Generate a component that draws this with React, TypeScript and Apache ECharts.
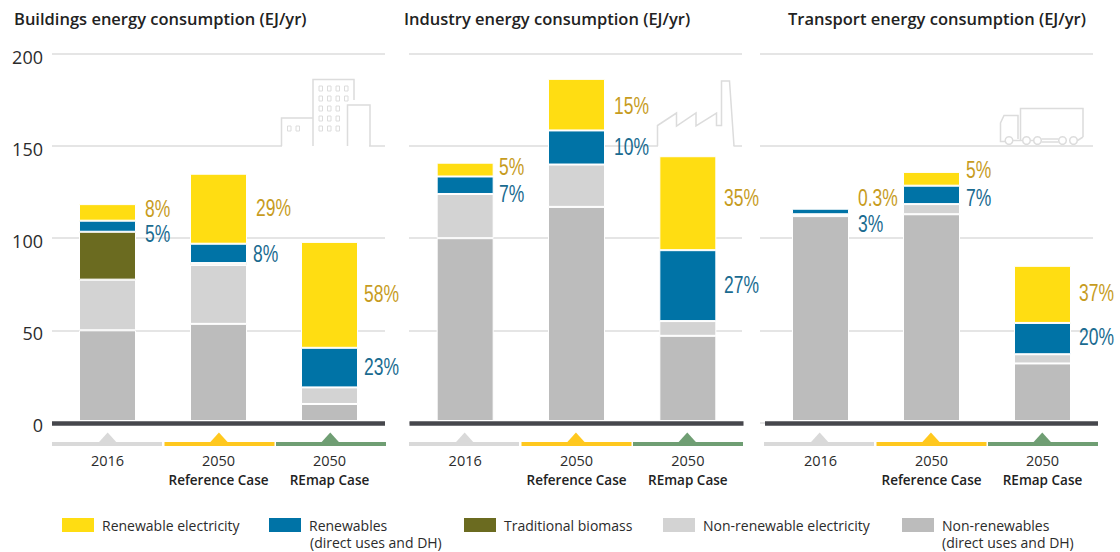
import React, { useEffect, useRef } from "react";
import * as echarts from "echarts";

const categories = ["2016", "2050\nReference Case", "2050\nREmap Case"];
const panelTitles = [
  "Buildings energy consumption (EJ/yr)",
  "Industry energy consumption (EJ/yr)",
  "Transport energy consumption (EJ/yr)",
];
const yTicks = [0, 50, 100, 150, 200];

const nonRenewables = [
  [50, 53.5, 10],
  [100, 117, 47],
  [112, 113, 32],
];
const nonRenewableElectricity = [
  [27.5, 32, 9],
  [24, 23, 8],
  [1, 5.5, 5],
];
const traditionalBiomass = [
  [26, 1, null],
  [null, null, null],
  [null, null, null],
];
const renewablesDirect = [
  [6, 10.5, 21.5],
  [9.5, 18.5, 38.5],
  [3, 10, 17],
];
const renewableElectricity = [
  [9, 38, 57.5],
  [7.5, 28, 51],
  [0.4, 7.5, 31],
];

const yellowShares = [
  ["8%", "29%", "58%"],
  ["5%", "15%", "35%"],
  ["0.3%", "5%", "37%"],
];
const blueShares = [
  ["5%", "8%", "23%"],
  ["7%", "10%", "27%"],
  ["3%", "7%", "20%"],
];

const seriesNames = [
  "Non-renewables",
  "Non-renewable electricity",
  "Traditional biomass",
  "Renewables",
  "Renewable electricity",
];
const seriesValues = [nonRenewables, nonRenewableElectricity, traditionalBiomass, renewablesDirect, renewableElectricity];
const seriesColors = ["#bcbcbc", "#d3d3d3", "#6b6b20", "#0073a6", "#ffdd12"];

const BODY = "'Open Sans', sans-serif";
const NARROW = "'Liberation Sans', sans-serif";
const GOLD = "#c79c1e";
const TEAL = "#1a6b90";
const LINE = "#dcdcdc";

const TOP = 54;
const HEIGHT = 368.4;
const LABEL_SHIFT = 2.5;
const barGrids = [
  { left: 52, width: 333 },
  { left: 409.5, width: 334 },
  { left: 765, width: 333 },
];
const lineGrids = [
  { left: 52, width: 333 },
  { left: 409, width: 333 },
  { left: 760, width: 333 },
];
const titleX = [14, 404, 788];
const yellowPos = [
  [[145, 209], [256, 208], [364, 294]],
  [[499, 167], [614, 106], [724, 198]],
  [[858, 198], [966, 170], [1079, 293]],
];
const bluePos = [
  [[145, 234], [253, 254], [364, 367]],
  [[499, 194], [614, 147], [724, 285]],
  [[858, 224], [966, 198], [1079, 337]],
];
const bandColors = ["#d9d9d9", "#ffc81e", "#6f9e73"];
const legendX = [62, 269, 464, 663, 902];
const legendOrder = [4, 3, 2, 1, 0];

function stroke(points: number[][]) {
  return {
    type: "polyline",
    z: 11,
    shape: { points },
    style: { stroke: LINE, lineWidth: 1.5, fill: "none" },
  };
}

function icons() {
  const out: any[] = [];
  // masks where the 150 gridline gives way to an icon
  out.push({ type: "rect", z: 10, shape: { x: 282, y: 144, width: 87, height: 4 }, style: { fill: "#fff" } });
  out.push({ type: "rect", z: 10, shape: { x: 658, y: 144, width: 75.5, height: 4 }, style: { fill: "#fff" } });
  // building
  out.push(stroke([[281.5, 146], [281.5, 118], [313, 118]]));
  out.push(stroke([[313, 146], [313, 79.5], [354, 79.5], [354, 100]]));
  out.push(stroke([[347.5, 146], [347.5, 105], [370, 105], [370, 146]]));
  const winX = [319, 327.5, 336, 344.5];
  [86, 96, 106, 116, 126].forEach((y, r) => {
    winX.slice(0, r < 2 ? 4 : 3).forEach((x) =>
      out.push({ type: "rect", z: 11, shape: { x, y, width: 3.5, height: 5 }, style: { fill: "none", stroke: LINE, lineWidth: 1 } })
    );
  });
  [287.5, 296].forEach((x) =>
    out.push({ type: "rect", z: 11, shape: { x, y: 126, width: 3.5, height: 5 }, style: { fill: "none", stroke: LINE, lineWidth: 1 } })
  );
  // factory
  out.push(
    stroke([
      [657.5, 146], [657.5, 125.5], [676.5, 113], [676.5, 126], [696, 113], [696, 126], [716.5, 113],
      [716.5, 125.5], [721.5, 125.5], [721.5, 81], [729.5, 81], [734, 146],
    ])
  );
  // truck
  out.push(stroke([[1020.5, 140], [1020.5, 108.5], [1083, 108.5], [1083, 137]]));
  out.push(stroke([[1005, 141.5], [1000.5, 141.5], [1000.5, 123], [1004, 115.5], [1018, 115.5], [1018, 139]]));
  [1009, 1026.5, 1037.5, 1062.5, 1073.5].forEach((cx) =>
    out.push({ type: "circle", z: 11, shape: { cx, cy: 140.5, r: 3.8 }, style: { fill: "#fff", stroke: LINE, lineWidth: 1.5 } })
  );
  out.push(stroke([[1013, 140.5], [1022.5, 140.5]]));
  out.push(stroke([[1030.5, 140.5], [1033.5, 140.5]]));
  out.push(stroke([[1041.5, 139], [1058.5, 139]]));
  out.push(stroke([[1041.5, 142], [1058.5, 142]]));
  out.push(stroke([[1077.5, 140.5], [1083, 137]]));
  return out;
}

function markers() {
  const out: any[] = [];
  [52, 409, 764].forEach((x0) => {
    [0, 1, 2].forEach((c) => {
      const x = x0 + c * 111.5 + (c > 0 ? 1 : 0);
      const w = 110;
      const mid = x0 + (c + 0.5) * 111.3;
      out.push({ type: "rect", z: 5, shape: { x, y: 442, width: w, height: 4 }, style: { fill: bandColors[c] } });
      out.push({
        type: "polygon",
        z: 5,
        shape: { points: [[mid - 9.5, 443], [mid, 432.5], [mid + 9.5, 443]] },
        style: { fill: bandColors[c] },
      });
    });
  });
  return out;
}

function shareTexts() {
  const out: any[] = [];
  const add = (text: string, p: number[], fill: string) =>
    out.push({
      type: "text",
      z: 12,
      x: p[0],
      y: p[1],
      scaleX: 0.76,
      style: { text, fill, font: `23px ${NARROW}`, textAlign: "left", textVerticalAlign: "middle" },
    });
  yellowShares.forEach((row, i) => row.forEach((t, j) => add(t, yellowPos[i][j], GOLD)));
  blueShares.forEach((row, i) => row.forEach((t, j) => add(t, bluePos[i][j], TEAL)));
  return out;
}

function secondLines() {
  return [310, 942].map((x) => ({
    type: "text",
    z: 12,
    x,
    y: 542,
    style: { text: "(direct uses and DH)", fill: "#2b2b2b", font: `14px ${BODY}`, textAlign: "left", textVerticalAlign: "middle" },
  }));
}

export default function App() {
  const ref = useRef<HTMLDivElement>(null);
  useEffect(() => {
    if (!ref.current) return;
    const chart = echarts.init(ref.current, undefined, { renderer: "svg" });
    const grid: any[] = [];
    const xAxis: any[] = [];
    const yAxis: any[] = [];
    const series: any[] = [];

    [0, 1, 2].forEach((p) => {
      // gridline layer
      grid.push({ left: lineGrids[p].left, width: lineGrids[p].width, top: TOP, height: HEIGHT });
      const lineIdx = grid.length - 1;
      xAxis.push({
        type: "value",
        gridIndex: lineIdx,
        min: 0,
        max: 1,
        z: 3,
        offset: -1.5,
        axisLine: { show: true, lineStyle: { color: "#fff", width: 2, cap: "butt" } },
        axisTick: { show: false },
        axisLabel: { show: false },
        splitLine: { show: false },
      });
      yAxis.push({
        type: "value",
        gridIndex: lineIdx,
        min: 0,
        max: 200,
        interval: 50,
        axisLine: { show: false },
        axisTick: { show: false },
        axisLabel: { show: false },
        splitLine: { show: true, lineStyle: { color: LINE, width: 1.5 } },
      });

      // bar layer
      grid.push({ left: barGrids[p].left, width: barGrids[p].width, top: TOP, height: HEIGHT });
      const barIdx = grid.length - 1;
      xAxis.push({
        type: "category",
        gridIndex: barIdx,
        data: categories,
        z: 4,
        offset: 1,
        axisLine: { show: true, onZero: false, lineStyle: { color: "#46474c", width: 4.7, cap: "butt" } },
        axisTick: { show: false },
        axisLabel: {
          interval: 0,
          margin: 28,
          color: "#2b2b2b",
          fontFamily: BODY,
          fontSize: 14.5,
          lineHeight: 19,
          formatter: (v: string) => {
            const parts = v.split("\n");
            return parts.length > 1 ? `${parts[0]}\n{b|${parts[1]}}` : v;
          },
          rich: {
            b: { fontFamily: BODY, fontSize: 13.5, fontWeight: 600, color: "#222", lineHeight: 19 },
          },
        },
      });
      yAxis.push({ type: "value", gridIndex: barIdx, min: 0, max: 200, show: false, splitLine: { show: false } });

      seriesNames.forEach((name, s) => {
        if (seriesValues[s][p].every((v) => v === null)) return;
        series.push({
          type: "bar",
          name,
          stack: `panel${p}`,
          xAxisIndex: barIdx,
          yAxisIndex: barIdx,
          barWidth: 57,
          data: seriesValues[s][p],
          itemStyle: { color: seriesColors[s], borderColor: "#fff", borderWidth: 1 },
          silent: true,
        });
      });
    });

    // tick labels sit slightly below their gridlines
    grid.push({ left: 52, width: 333, top: TOP + LABEL_SHIFT, height: HEIGHT });
    const tickIdx = grid.length - 1;
    xAxis.push({ type: "value", gridIndex: tickIdx, min: 0, max: 1, show: false });
    yAxis.push({
      type: "value",
      gridIndex: tickIdx,
      min: 0,
      max: 200,
      interval: 50,
      axisLine: { show: false },
      axisTick: { show: false },
      splitLine: { show: false },
      axisLabel: { show: true, margin: 9, fontFamily: BODY, fontSize: 18, color: "#2b2b2b", customValues: yTicks },
    });

    chart.setOption({
      animation: false,
      backgroundColor: "#fff",
      title: panelTitles.map((text, i) => ({
        text,
        left: titleX[i],
        top: 10,
        padding: 0,
        textStyle: { fontFamily: BODY, fontSize: 16.5, fontWeight: 600, color: "#222" },
      })),
      legend: legendOrder.map((s, i) => ({
        left: legendX[i],
        top: 518,
        padding: 0,
        itemWidth: 32,
        itemHeight: 14,
        icon: "rect",
        selectedMode: false,
        data: [seriesNames[s]],
        itemStyle: { borderWidth: 0 },
        textStyle: { fontFamily: BODY, fontSize: 14, color: "#2b2b2b", padding: [0, 0, 0, 3] },
      })),
      grid,
      xAxis,
      yAxis,
      series,
      graphic: { elements: [...icons(), ...markers(), ...shareTexts(), ...secondLines()] },
    });
    return () => chart.dispose();
  }, []);
  return <div ref={ref} style={{ position: "absolute", left: 0, top: 0, width: 1120, height: 552 }} />;
}
